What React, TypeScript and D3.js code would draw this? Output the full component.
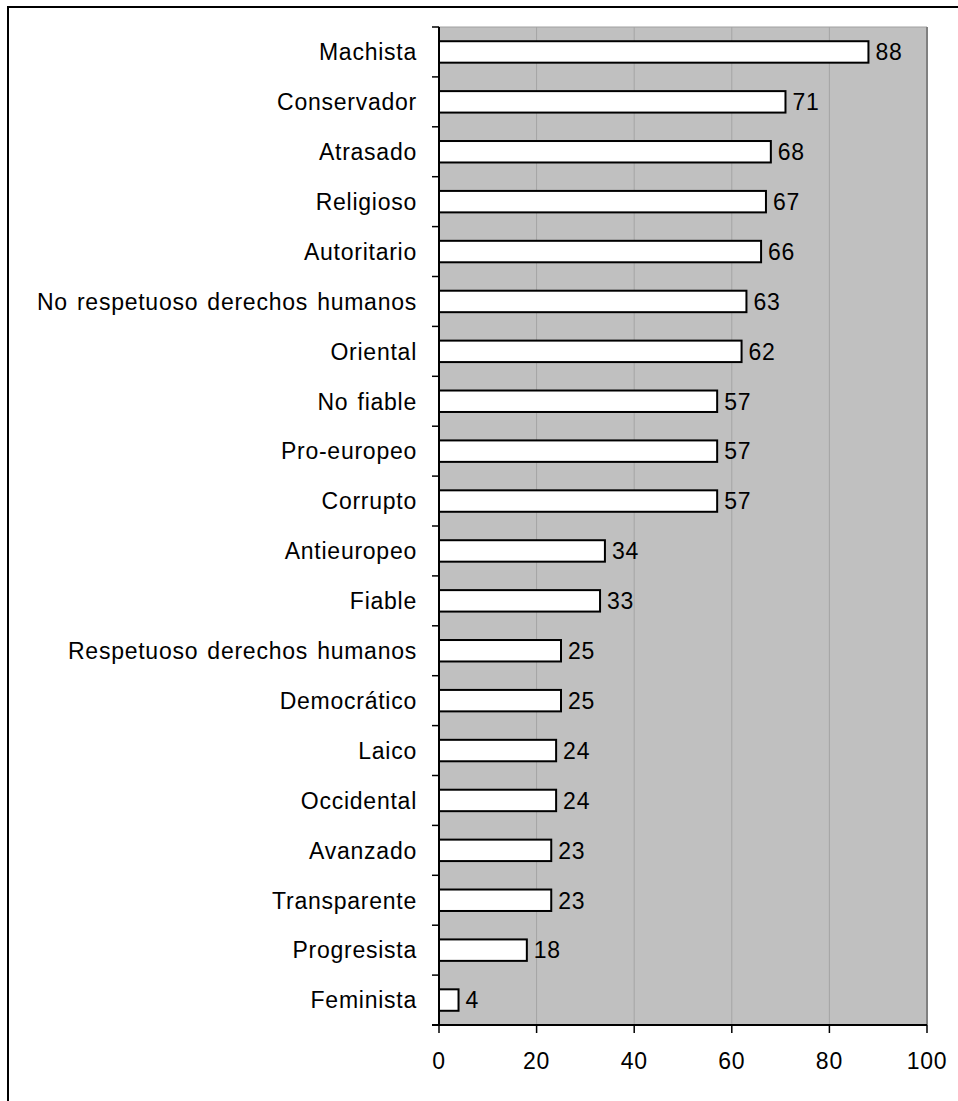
import React from "react";
import * as d3 from "d3";

const categories = [
  "Machista", "Conservador", "Atrasado", "Religioso", "Autoritario",
  "No respetuoso derechos humanos", "Oriental", "No fiable", "Pro-europeo",
  "Corrupto", "Antieuropeo", "Fiable", "Respetuoso derechos humanos",
  "Democrático", "Laico", "Occidental", "Avanzado", "Transparente",
  "Progresista", "Feminista",
];
const values = [88, 71, 68, 67, 66, 63, 62, 57, 57, 57, 34, 33, 25, 25, 24, 24, 23, 23, 18, 4];
const xTicks = [0, 20, 40, 60, 80, 100];

const W = 958, H = 1101;
const L = 439, R = 927, T = 27, B = 1025;
const FONT = "'Liberation Sans', Arial, sans-serif";

export default function App() {
  const x = d3.scaleLinear().domain([0, 100]).range([L, R]);
  const y = d3.scaleBand<string>().domain(categories).range([T, B]).paddingInner(0.57).paddingOuter(0.285);
  const band = (B - T) / categories.length;
  const boundaries = d3.range(categories.length + 1).map((i) => T + i * band);
  const textStyle = { letterSpacing: "0.75px", wordSpacing: "2px" };
  return (
    <svg width={W} height={H} style={{ position: "absolute", left: 0, top: 0, display: "block", background: "#fff" }}>
      {/* outer frame */}
      <line x1={7} y1={7} x2={W} y2={7} stroke="#000" strokeWidth={2} />
      <line x1={8} y1={6} x2={8} y2={H} stroke="#000" strokeWidth={2} />
      {/* plot area */}
      <rect x={L} y={T} width={R - L} height={B - T} fill="#c0c0c0" />
      <line x1={L} y1={T} x2={R} y2={T} stroke="#a0a0a0" strokeWidth={1} />
      <line x1={R} y1={T} x2={R} y2={B} stroke="#808080" strokeWidth={2} />
      {xTicks.slice(1, -1).map((t) => (
        <line key={t} x1={x(t)} y1={T} x2={x(t)} y2={B} stroke="#a4a4a4" strokeWidth={1} />
      ))}
      {/* bars */}
      {categories.map((c, i) => (
        <g key={c}>
          <rect x={x(0)} y={y(c)!} width={x(values[i]) - x(0)} height={y.bandwidth()} fill="#fff" stroke="#000" strokeWidth={2} />
          <text x={x(values[i]) + 7} y={y(c)! + y.bandwidth() / 2} dy="0.36em" fontFamily={FONT} fontSize={23} fill="#000" style={textStyle}>{values[i]}</text>
          <text x={L - 22} y={y(c)! + y.bandwidth() / 2} dy="0.36em" textAnchor="end" fontFamily={FONT} fontSize={23} fill="#000" style={textStyle}>{c}</text>
        </g>
      ))}
      {/* axes */}
      <line x1={L} y1={T} x2={L} y2={B + 1} stroke="#000" strokeWidth={2} />
      {boundaries.map((b, i) => (
        <line key={i} x1={L - 7} y1={b} x2={L} y2={b} stroke="#000" strokeWidth={1.5} />
      ))}
      <line x1={L - 7} y1={B} x2={R} y2={B} stroke="#000" strokeWidth={2} />
      {xTicks.map((t) => (
        <g key={t}>
          <line x1={x(t)} y1={B} x2={x(t)} y2={B + 8} stroke="#000" strokeWidth={1.5} />
          <text x={x(t)} y={B + 36} dy="0.36em" textAnchor="middle" fontFamily={FONT} fontSize={23} fill="#000" style={textStyle}>{t}</text>
        </g>
      ))}
    </svg>
  );
}
